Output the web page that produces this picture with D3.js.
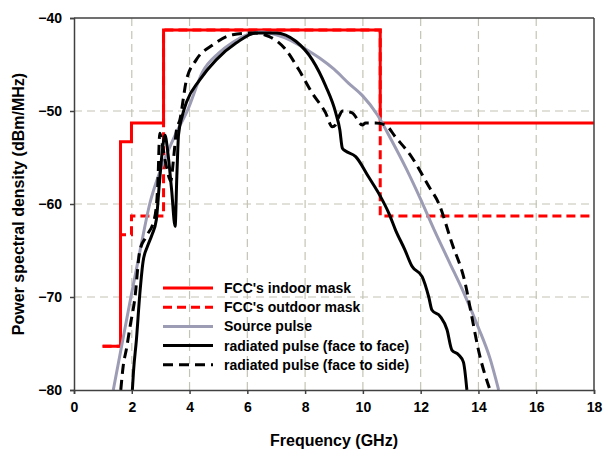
<!DOCTYPE html>
<html>
<head>
<meta charset="utf-8">
<script src="https://cdn.jsdelivr.net/npm/d3@7"></script>
<style>
  body { margin: 0; background: #fff; }
  text { font-family: "Liberation Sans", Arial, sans-serif; font-weight: bold; }
</style>
</head>
<body>
<div id="chart"></div>
<script>
// FCC masks: [frequency GHz, dBm/MHz], drawn as steps
const indoorMask = [[0.99, -75.3], [1.61, -53.3], [1.99, -51.3], [3.1, -41.3], [10.6, -51.3], [18, -51.3]];
const outdoorMask = [[0.99, -75.3], [1.61, -63.3], [1.99, -61.3], [3.1, -41.3], [10.6, -61.3], [18, -61.3]];

const sourcePulse = [[1.36, -80], [1.97, -70], [2.3, -64.8], [2.62, -60], [3.0, -56.3], [3.5, -52.6], [3.92, -50],
  [4.45, -45.8], [5.0, -43.8], [5.5, -42.6], [6.0, -41.8], [6.5, -41.5], [7.0, -41.8], [7.5, -42.4], [8.0, -43.3],
  [8.5, -44.3], [9.0, -45.5], [9.5, -47.0], [10.0, -48.4], [10.5, -50.4], [11.0, -53.2], [11.5, -56.2],
  [12.0, -59.5], [12.5, -63.0], [13.0, -66.3], [13.5, -69.6], [14.0, -73.3], [14.4, -76.6], [14.7, -80]];

const faceToFace = [[2.02, -80], [2.06, -78], [2.16, -74.6], [2.28, -69.6], [2.39, -66.2], [2.55, -64.5], [2.7, -63.3],
  [2.85, -61.7], [2.95, -58], [3.05, -54.5], [3.15, -52.6], [3.25, -54.5], [3.38, -58.5], [3.5, -62.4], [3.56, -57],
  [3.62, -52.5], [3.75, -50.5], [3.9, -49], [4.34, -46.7], [4.92, -44.5], [5.61, -42.7], [6.3, -41.6], [6.99, -41.6],
  [7.68, -42.5], [8.25, -44.5], [8.71, -47.3], [9.06, -50.2], [9.2, -52], [9.29, -54.0], [9.4, -54.3], [9.75, -54.9],
  [10.2, -57.1], [10.61, -59.2], [10.9, -61.0], [11.13, -62.8], [11.45, -64.9], [11.7, -66.7], [12.05, -67.8],
  [12.28, -70.0], [12.39, -71.4], [12.68, -72.1], [12.91, -73.5], [13.08, -75.7], [13.31, -76.2], [13.48, -77.0],
  [13.6, -80]];

const faceToSide = [[1.62, -80], [1.7, -77.5], [1.82, -75.5], [1.95, -73], [2.1, -70.3], [2.28, -65], [2.5, -63.5],
  [2.79, -61.5], [2.9, -58], [2.97, -52.4], [3.05, -53.5], [3.2, -56], [3.35, -57.5], [3.45, -55], [3.55, -52],
  [3.66, -51], [3.89, -46.7], [4.23, -44.5], [4.8, -42.9], [5.49, -41.8], [6.18, -41.6], [6.76, -42.0], [7.33, -43.4],
  [7.79, -45.6], [8.25, -48.1], [8.71, -50.2], [8.94, -51.7], [9.05, -51.5], [9.17, -50.6], [9.3, -50.0],
  [9.63, -50.2], [9.98, -51.5], [10.09, -51.3], [10.44, -51.3], [10.78, -51.5], [11.13, -52.8], [11.7, -55.0],
  [12.28, -58.1], [12.62, -59.9], [13.08, -64.2], [13.54, -68.5], [13.77, -72.1], [14.0, -75.7], [14.4, -80]];

const xTicks = [0, 2, 4, 6, 8, 10, 12, 14, 16, 18];
const yTicks = [-80, -70, -60, -50, -40];

const legendItems = [
  { label: "FCC's indoor mask", color: "#ff0000", dash: null },
  { label: "FCC's outdoor mask", color: "#ff0000", dash: "9,5" },
  { label: "Source pulse", color: "#9c9cb4", dash: null },
  { label: "radiated pulse (face to face)", color: "#000", dash: null },
  { label: "radiated pulse (face to side)", color: "#000", dash: "10,6" }
];

const width = 603, height = 452;
const margin = { top: 18, right: 9, bottom: 62, left: 74 };
const plotW = width - margin.left - margin.right;
const plotH = height - margin.top - margin.bottom;

const svg = d3.select("#chart").append("svg")
  .attr("width", width)
  .attr("height", height);

const g = svg.append("g")
  .attr("transform", `translate(${margin.left},${margin.top})`);

const x = d3.scaleLinear().domain([0, 18]).range([0, plotW]);
const y = d3.scaleLinear().domain([-80, -40]).range([plotH, 0]);

svg.append("clipPath").attr("id", "plotclip")
  .append("rect").attr("width", plotW).attr("height", plotH);

// grid
g.selectAll(".vgrid").data(xTicks.slice(1, -1)).enter().append("line")
  .attr("x1", d => x(d)).attr("x2", d => x(d))
  .attr("y1", 0).attr("y2", plotH)
  .style("stroke", "#c4c4b4").style("stroke-width", 1.2).style("stroke-dasharray", "8,5");
g.selectAll(".hgrid").data(yTicks.slice(1, -1)).enter().append("line")
  .attr("x1", 0).attr("x2", plotW)
  .attr("y1", d => y(d)).attr("y2", d => y(d))
  .style("stroke", "#c4c4b4").style("stroke-width", 1.2).style("stroke-dasharray", "8,5");

const line = d3.line().x(d => x(d[0])).y(d => y(d[1]));
const stepLine = d3.line().x(d => x(d[0])).y(d => y(d[1])).curve(d3.curveStepAfter);

const plot = g.append("g").attr("clip-path", "url(#plotclip)");

plot.append("path").datum(outdoorMask).attr("d", stepLine)
  .style("fill", "none").style("stroke", "#ff0000").style("stroke-width", 3).style("stroke-dasharray", "9,5");
plot.append("path").datum(indoorMask).attr("d", stepLine)
  .style("fill", "none").style("stroke", "#ff0000").style("stroke-width", 3);
plot.append("path").datum(sourcePulse).attr("d", line.curve(d3.curveMonotoneX))
  .style("fill", "none").style("stroke", "#9c9cb4").style("stroke-width", 3);
plot.append("path").datum(faceToFace).attr("d", line)
  .style("fill", "none").style("stroke", "#000").style("stroke-width", 3).style("stroke-linejoin", "round");
plot.append("path").datum(faceToSide).attr("d", line)
  .style("fill", "none").style("stroke", "#000").style("stroke-width", 3).style("stroke-dasharray", "10,6");

// axes
const xAxis = g.append("g").attr("transform", `translate(0,${plotH})`)
  .call(d3.axisBottom(x).tickValues(xTicks).tickSize(4).tickPadding(8));
const yAxis = g.append("g")
  .call(d3.axisLeft(y).tickValues(yTicks).tickSize(4).tickPadding(8));
[xAxis, yAxis].forEach(a => {
  a.select(".domain").style("stroke", "#404040").style("stroke-width", 1.5);
  a.selectAll(".tick line").style("stroke", "#404040").style("stroke-width", 1.5);
  a.selectAll("text").style("font-size", "14px").style("fill", "#000")
    .style("font-family", "'Liberation Sans', Arial, sans-serif").style("font-weight", "bold");
});

// frame top and right
g.append("line").attr("x1", 0).attr("x2", plotW).attr("y1", 0).attr("y2", 0)
  .style("stroke", "#404040").style("stroke-width", 1.5);
g.append("line").attr("x1", plotW).attr("x2", plotW).attr("y1", 0).attr("y2", plotH)
  .style("stroke", "#404040").style("stroke-width", 1.5);

// axis titles
svg.append("text")
  .attr("x", margin.left + plotW / 2)
  .attr("y", 446)
  .attr("text-anchor", "middle")
  .style("font-size", "16px")
  .text("Frequency (GHz)");

svg.append("text")
  .attr("transform", `translate(24,${margin.top + plotH / 2}) rotate(-90)`)
  .attr("text-anchor", "middle")
  .style("font-size", "16px")
  .text("Power spectral density (dBm/MHz)");

// legend
const legend = svg.append("g").attr("transform", "translate(163,288)");
const rows = legend.selectAll(".row").data(legendItems).enter().append("g")
  .attr("transform", (d, i) => `translate(0,${i * 19.2})`);
rows.append("line")
  .attr("x1", 0).attr("x2", 50).attr("y1", 0).attr("y2", 0)
  .style("stroke", d => d.color).style("stroke-width", 3)
  .style("stroke-dasharray", d => d.dash);
rows.append("text")
  .attr("x", 61).attr("y", 5)
  .style("font-size", "14px")
  .text(d => d.label);
</script>
</body>
</html>
